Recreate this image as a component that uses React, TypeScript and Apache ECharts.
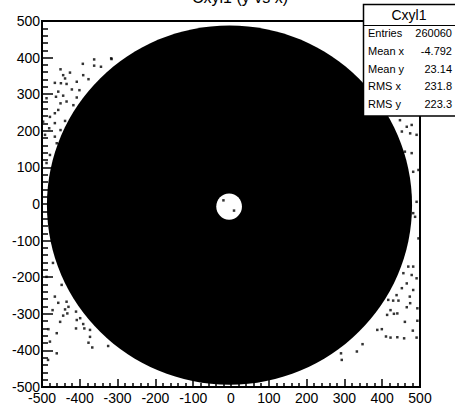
import React, { useEffect, useRef } from "react";
import * as echarts from "echarts";

// Axis ticks
const X_TICKS = [-500, 500, 100];
const Y_TICKS = [-500, 500, 100];

// Filled disc of entries: [centerX, centerY, radiusX, radiusY]
const DISC = [-4, -3, 483, 491];
// Empty hole at the centre: [centerX, centerY, radiusX, radiusY]
const HOLE = [-5, -7, 34, 36];

// Isolated entries outside the disc
const UPPER_LEFT_DOTS = [
  [-316, 396], [-392, 383], [-362, 378], [-344, 375], [-451, 368], [-444, 352],
  [-426, 359], [-391, 352], [-439, 343], [-377, 341], [-408, 334], [-450, 330],
  [-435, 328], [-466, 331], [-421, 313], [-401, 311], [-457, 307], [-463, 293],
  [-444, 296], [-408, 291], [-435, 280], [-451, 275], [-417, 270], [-488, 289],
  [-457, 257], [-466, 248], [-479, 238], [-439, 227], [-466, 221], [-481, 207],
  [-451, 202], [-497, 225], [-466, 184], [-362, 395], [-317, 398], [-461, 166],
  [-492, 189], [-479, 134], [-488, 112],
];
const LOWER_LEFT_DOTS = [
  [-471, -161], [-488, -199], [-448, -221], [-466, -253], [-457, -270], [-435, -267],
  [-472, -290], [-439, -288], [-430, -281], [-444, -305], [-433, -299], [-410, -294],
  [-452, -322], [-408, -317], [-399, -312], [-483, -342], [-410, -340], [-388, -340],
  [-391, -328], [-373, -344], [-461, -353], [-373, -363], [-377, -379], [-367, -392],
  [-325, -388], [-479, -376], [-461, -408], [-484, -426],
];
const RIGHT_DOTS = [
  [447, 229], [465, 211], [478, 216], [452, 198], [474, 193], [491, 189],
  [460, 143], [478, 139], [496, 93], [482, 88], [491, 6], [482, -25],
  [487, -35], [496, -94], [469, -171], [482, -171], [456, -189], [478, -194],
  [491, -203], [465, -217], [452, -230], [482, -235], [438, -249], [473, -253],
  [416, -262], [429, -264], [443, -264], [474, -271], [465, -282], [493, -285],
  [422, -290], [431, -300], [440, -299], [413, -303], [460, -322], [493, -319],
  [387, -344], [399, -342], [481, -346], [410, -362], [422, -365], [440, -364],
  [458, -367], [491, -365], [348, -383], [333, -403], [291, -408], [293, -426],
];
// Entries inside the hole
const HOLE_DOTS = [[-20, 10], [8, -18]];

// Statistics box
const STATS_TITLE = "Cxyl1";
const STAT_LABELS = ["Entries", "Mean x", "Mean y", "RMS x", "RMS y"];
const STAT_VALUES = ["260060", "-4.792", "23.14", "231.8", "223.3"];
const TITLE = "Cxyl1 (y vs x)";

const FONT = "Liberation Sans, Arial, sans-serif";

export default function App() {
  const ref = useRef<HTMLDivElement>(null);

  useEffect(() => {
    if (!ref.current) return;
    const chart = echarts.init(ref.current, null, { renderer: "svg" });

    const ellipseSeries = (d: number[], fill: string, z: number) => ({
      type: "custom",
      coordinateSystem: "cartesian2d",
      silent: true,
      z,
      clip: true,
      data: [d],
      encode: { x: 0, y: 1 },
      renderItem: (_p: any, api: any) => {
        const c = api.coord([api.value(0), api.value(1)]);
        const s = api.size([api.value(2), api.value(3)]);
        return {
          type: "ellipse",
          shape: { cx: c[0], cy: c[1], rx: s[0], ry: s[1] },
          style: { fill },
        };
      },
    });

    const dots = (data: number[][], color: string, z: number) => ({
      type: "scatter",
      silent: true,
      z,
      symbol: "rect",
      symbolSize: 2.5,
      itemStyle: { color },
      data,
    });

    const statRows: any[] = [];
    STAT_LABELS.forEach((lab, i) => {
      const y = 33 + i * 17.8;
      statRows.push({
        type: "text",
        x: 368,
        y: y,
        style: { text: lab, font: `11px ${FONT}`, fill: "#000", align: "left", verticalAlign: "middle" },
      });
      statRows.push({
        type: "text",
        x: 452,
        y: y,
        style: {
          text: STAT_VALUES[i],
          font: `11px ${FONT}`,
          fill: "#000",
          align: "right",
          verticalAlign: "middle",
        },
      });
    });

    chart.setOption({
      animation: false,
      backgroundColor: "#fff",
      grid: {
        left: 42,
        right: 35,
        top: 21,
        bottom: 23,
        show: true,
        borderColor: "#000",
        borderWidth: 2,
        backgroundColor: "transparent",
      },
      xAxis: {
        type: "value",
        min: X_TICKS[0],
        max: X_TICKS[1],
        interval: X_TICKS[2],
        axisLine: { show: true, onZero: false, lineStyle: { color: "#000", width: 2 } },
        axisTick: { show: true, inside: true, length: 8, lineStyle: { color: "#000", width: 1.5 } },
        minorTick: { show: true, splitNumber: 5, length: 4, lineStyle: { color: "#000", width: 1.5 } },
        splitLine: { show: false },
        axisLabel: { color: "#000", fontSize: 14, fontFamily: FONT, margin: 4, showMinLabel: true, showMaxLabel: true },
      },
      yAxis: {
        type: "value",
        min: Y_TICKS[0],
        max: Y_TICKS[1],
        interval: Y_TICKS[2],
        axisLine: { show: true, onZero: false, lineStyle: { color: "#000", width: 2 } },
        axisTick: { show: true, inside: true, length: 11, lineStyle: { color: "#000", width: 1.5 } },
        minorTick: { show: true, splitNumber: 5, length: 6, lineStyle: { color: "#000", width: 1.5 } },
        splitLine: { show: false },
        axisLabel: { color: "#000", fontSize: 14, fontFamily: FONT, margin: 2, showMinLabel: true, showMaxLabel: true },
      },
      series: [
        ellipseSeries(DISC, "#000", 1),
        ellipseSeries(HOLE, "#fff", 2),
        dots(HOLE_DOTS, "#000", 3),
        dots(UPPER_LEFT_DOTS, "#000", 3),
        dots(LOWER_LEFT_DOTS, "#000", 3),
        dots(RIGHT_DOTS, "#000", 3),
      ],
      graphic: [
        {
          type: "text",
          x: 240,
          y: -11,
          style: { text: TITLE, font: `16px ${FONT}`, fill: "#000", align: "center", verticalAlign: "top" },
        },
        {
          type: "rect",
          shape: { x: 363.5, y: 4.5, width: 100, height: 111.5 },
          style: { fill: "#fff", stroke: "#000", lineWidth: 1.5 },
          z: 100,
        },
        {
          type: "line",
          shape: { x1: 363.5, y1: 25.5, x2: 460, y2: 25.5 },
          style: { stroke: "#000", lineWidth: 1 },
          z: 101,
        },
        {
          type: "text",
          x: 409,
          y: 15,
          style: { text: STATS_TITLE, font: `14px ${FONT}`, fill: "#000", align: "center", verticalAlign: "middle" },
          z: 101,
        },
        ...statRows.map((r) => ({ ...r, z: 101 })),
      ],
    });

    return () => chart.dispose();
  }, []);

  return (
    <div
      ref={ref}
      style={{ position: "absolute", left: 0, top: 0, width: 455, height: 410 }}
    />
  );
}
